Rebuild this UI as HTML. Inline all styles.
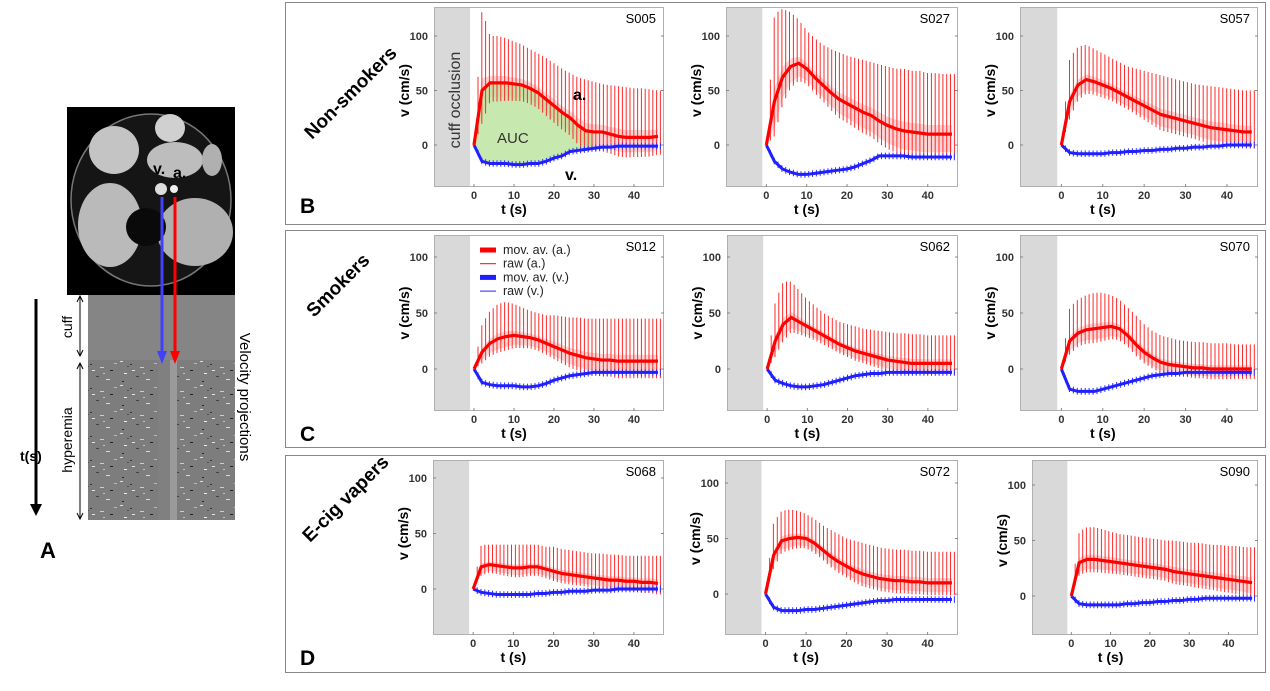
<!DOCTYPE html>
<html><head><meta charset="utf-8">
<style>
body{margin:0;background:#fff;width:1270px;height:686px;overflow:hidden;font-family:"Liberation Sans",Arial,sans-serif}
svg text{font-family:"Liberation Sans",Arial,sans-serif}
</style></head>
<body>
<svg id="fig" width="1270" height="686" viewBox="0 0 1270 686" xmlns="http://www.w3.org/2000/svg">
<defs>
<pattern id="noise" width="40" height="24" patternUnits="userSpaceOnUse">
<rect width="40" height="24" fill="#7d7d7d"/>
<rect x="0" y="1" width="3" height="1" fill="#ddd"/><rect x="10" y="4" width="2" height="1" fill="#333"/>
<rect x="20" y="7" width="4" height="1" fill="#ccc"/><rect x="30" y="10" width="3" height="1" fill="#222"/>
<rect x="4" y="13" width="3" height="1" fill="#eee"/><rect x="16" y="16" width="3" height="1" fill="#444"/>
<rect x="26" y="19" width="4" height="1" fill="#d8d8d8"/><rect x="2" y="21" width="2" height="1" fill="#2a2a2a"/>
<rect x="34" y="3" width="3" height="1" fill="#bbb"/><rect x="12" y="10" width="3" height="1" fill="#e4e4e4"/>
<rect x="7" y="6" width="2" height="1" fill="#505050"/><rect x="23" y="13" width="2" height="1" fill="#c4c4c4"/>
</pattern>
</defs>

<!-- Panel A -->
<g>
<rect x="67" y="107" width="168" height="188" fill="#000"/>
<ellipse cx="151" cy="200" rx="80" ry="86" fill="#151515" stroke="#777" stroke-width="1.5"/>
<ellipse cx="114" cy="150" rx="25" ry="24" fill="#c4c4c4"/>
<ellipse cx="170" cy="128" rx="15" ry="14" fill="#d0d0d0"/>
<ellipse cx="175" cy="160" rx="28" ry="18" fill="#bdbdbd"/>
<ellipse cx="212" cy="160" rx="10" ry="16" fill="#b0b0b0"/>
<ellipse cx="110" cy="225" rx="32" ry="42" fill="#bababa"/>
<ellipse cx="195" cy="232" rx="38" ry="34" fill="#b0b0b0"/>
<ellipse cx="146" cy="227" rx="20" ry="19" fill="#0a0a0a"/>
<circle cx="161" cy="189" r="6" fill="#ddd"/><circle cx="174" cy="189" r="4" fill="#eee"/>
<text x="153" y="174" font-size="16" font-weight="bold" fill="#000">v.</text>
<text x="173" y="178" font-size="16" font-weight="bold" fill="#000">a.</text>
<rect x="88" y="295" width="147" height="65" fill="#858585"/>
<rect x="88" y="360" width="147" height="160" fill="url(#noise)"/>
<rect x="158" y="360" width="12" height="160" fill="#808080"/>
<rect x="170" y="360" width="7" height="160" fill="#9a9a9a"/>
<line x1="162" y1="197" x2="162" y2="352" stroke="#4040ff" stroke-width="3"/>
<path d="M157,351 L167,351 L162,364z" fill="#4040ff"/>
<line x1="175" y1="197" x2="175" y2="352" stroke="#ff0000" stroke-width="3"/>
<path d="M170,351 L180,351 L175,364z" fill="#f00"/>
<line x1="36" y1="299" x2="36" y2="505" stroke="#000" stroke-width="3"/>
<path d="M30,504 L42,504 L36,516z" fill="#000"/>
<text x="20" y="461" font-size="14" font-weight="bold">t(s)</text>
<line x1="80" y1="297" x2="80" y2="355" stroke="#000"/><path d="M77,302 L80,296 L83,302 M77,350 L80,356 L83,350" stroke="#000" fill="none"/>
<line x1="80" y1="364" x2="80" y2="518" stroke="#000"/><path d="M77,369 L80,363 L83,369 M77,513 L80,519 L83,513" stroke="#000" fill="none"/>
<text transform="translate(72,327) rotate(-90)" font-size="14" text-anchor="middle">cuff</text>
<text transform="translate(72,440) rotate(-90)" font-size="14" text-anchor="middle">hyperemia</text>
<text transform="translate(240,397) rotate(90)" font-size="15" text-anchor="middle">Velocity projections</text>
<text x="40" y="558" font-size="22" font-weight="bold">A</text>
</g>

<g>
<rect x="285.5" y="2.5" width="980" height="222" fill="none" stroke="#888"/>
<rect x="285.5" y="230.5" width="980" height="217" fill="none" stroke="#888"/>
<rect x="285.5" y="455.5" width="980" height="217" fill="none" stroke="#888"/>
<text transform="translate(312,140) rotate(-45)" font-size="19" font-weight="bold">Non-smokers</text>
<text transform="translate(314,318) rotate(-45)" font-size="19" font-weight="bold">Smokers</text>
<text transform="translate(310,543) rotate(-45)" font-size="19" font-weight="bold">E-cig vapers</text>
<text x="300" y="213" font-size="21" font-weight="bold">B</text>
<text x="300" y="441" font-size="21" font-weight="bold">C</text>
<text x="300" y="665" font-size="21" font-weight="bold">D</text>
</g>
<g id="plots"></g>
</svg>
<script>
// time grid (s) for all series
const times=[0,2,4,6,8,10,12,14,16,18,20,22,24,26,28,30,32,34,36,38,40,42,44,46];
const subjects=["S005","S027","S057","S012","S062","S070","S068","S072","S090"];
const art_S005=[0,50,57,57,57,56,55,52,48,42,36,30,25,18,13,12,12,10,8,7,7,7,7,8];
const ven_S005=[0,-15,-17,-17,-17,-18,-18,-17,-17,-15,-12,-10,-6,-5,-4,-3,-2,-2,-1,-1,-1,-1,-1,-1];
const peak_S005=[0,125,100,100,98,95,92,88,84,80,75,70,66,62,60,58,56,55,54,53,52,52,51,50];
const art_S027=[0,40,62,72,75,70,62,55,48,42,38,34,30,27,22,18,15,13,12,11,10,10,10,10];
const ven_S027=[0,-15,-22,-25,-27,-27,-26,-25,-24,-23,-22,-20,-17,-14,-10,-10,-10,-10,-11,-11,-11,-11,-11,-11];
const peak_S027=[0,120,125,122,115,105,98,92,88,85,82,80,78,76,74,72,70,70,68,68,66,66,65,65];
const art_S057=[0,40,55,60,58,55,52,48,44,40,36,32,28,26,24,22,20,18,16,15,14,13,12,12];
const ven_S057=[0,-7,-8,-8,-8,-8,-7,-7,-6,-6,-5,-5,-4,-4,-3,-3,-2,-2,-1,-1,0,0,0,0];
const peak_S057=[0,80,90,92,88,84,80,76,72,70,68,66,64,62,60,58,56,55,54,53,52,51,50,50];
const art_S012=[0,15,23,27,29,30,29,28,26,23,20,17,14,12,10,9,8,8,7,7,7,7,7,7];
const ven_S012=[0,-12,-14,-15,-15,-15,-16,-16,-15,-13,-10,-8,-6,-5,-4,-3,-3,-3,-3,-3,-3,-3,-3,-3];
const peak_S012=[0,40,52,58,60,58,55,52,50,48,48,47,46,46,45,45,45,45,45,45,45,45,45,45];
const art_S062=[0,25,40,46,42,38,34,30,26,22,19,16,14,12,10,8,7,6,5,5,5,5,5,5];
const ven_S062=[0,-10,-13,-15,-16,-16,-15,-14,-12,-10,-8,-6,-5,-4,-4,-3,-3,-3,-3,-3,-3,-3,-3,-3];
const peak_S062=[0,60,78,78,70,62,56,50,46,42,40,38,36,35,34,33,32,32,31,31,30,30,30,30];
const art_S070=[0,25,32,35,36,37,38,36,30,22,15,10,6,4,3,2,1,1,0,0,0,0,0,0];
const ven_S070=[0,-18,-20,-20,-20,-18,-16,-14,-12,-10,-8,-6,-5,-4,-4,-3,-3,-3,-3,-3,-3,-3,-3,-3];
const peak_S070=[0,55,62,66,68,68,66,62,55,48,40,34,30,28,26,25,24,24,23,23,23,22,22,22];
const art_S068=[0,20,22,21,20,19,19,20,20,18,16,14,13,12,11,10,9,8,8,7,7,6,6,5];
const ven_S068=[0,-3,-4,-5,-5,-5,-5,-5,-4,-4,-3,-3,-2,-2,-2,-1,-1,-1,0,0,0,0,0,0];
const peak_S068=[0,40,40,40,40,40,40,40,40,38,38,36,35,34,33,32,32,31,31,30,30,30,30,30];
const art_S072=[0,35,48,50,51,50,46,40,34,29,25,21,18,16,14,13,12,12,11,11,10,10,10,10];
const ven_S072=[0,-12,-15,-15,-15,-14,-14,-13,-12,-11,-10,-9,-8,-7,-6,-6,-5,-5,-5,-5,-5,-5,-5,-5];
const peak_S072=[0,65,75,76,75,72,68,62,58,54,50,48,46,44,42,41,40,40,39,39,38,38,38,38];
const art_S090=[0,30,33,33,32,31,30,29,28,27,26,25,24,22,21,20,19,18,17,16,15,14,13,12];
const ven_S090=[0,-7,-8,-8,-8,-8,-8,-7,-7,-6,-6,-5,-5,-4,-4,-3,-3,-2,-2,-2,-2,-2,-2,-2];
const peak_S090=[0,58,62,62,60,58,56,55,54,53,52,51,50,50,49,48,48,47,46,46,45,45,44,44];
const xTicks=[0,10,20,30,40];
const yTicks=[0,50,100];

const series={S005:[art_S005,ven_S005,peak_S005],S027:[art_S027,ven_S027,peak_S027],S057:[art_S057,ven_S057,peak_S057],
S012:[art_S012,ven_S012,peak_S012],S062:[art_S062,ven_S062,peak_S062],S070:[art_S070,ven_S070,peak_S070],
S068:[art_S068,ven_S068,peak_S068],S072:[art_S072,ven_S072,peak_S072],S090:[art_S090,ven_S090,peak_S090]};
// layout (pixels)
const layout={S005:[434,664,7,187,145,1.09],S027:[726,958,7,187,145,1.09],S057:[1020,1258,7,187,145,1.09],
S012:[434,664,235,411,369,1.12],S062:[727,958,235,411,369,1.12],S070:[1020,1258,235,411,369,1.12],
S068:[433,664,460,635,589,1.11],S072:[725,958,460,635,594,1.11],S090:[1032,1258,460,635,596,1.11]};
const NS="http://www.w3.org/2000/svg";
function mk(tag,attrs,parent){const e=document.createElementNS(NS,tag);for(const k in attrs)e.setAttribute(k,attrs[k]);parent.appendChild(e);return e;}
function interp(arr,t){if(t<=times[0])return arr[0];for(let i=1;i<times.length;i++){if(t<=times[i]){const f=(t-times[i-1])/(times[i]-times[i-1]);return arr[i-1]+f*(arr[i]-arr[i-1]);}}return arr[arr.length-1];}
const root=document.getElementById('plots');
subjects.forEach(s=>{
  const [L,R,T,B,Y0,K]=layout[s];
  const [art,ven,peak]=series[s];
  const xs=t=>L+(t+10)*(R-L)/57.5;
  const ys=v=>Y0-v*K;
  const g=mk('g',{},root);
  
  
  const clipId='c'+s;
  const cp=mk('clipPath',{id:clipId},g);mk('rect',{x:L,y:T,width:R-L,height:B-T},cp);
  const gray=mk('rect',{x:L,y:T,width:xs(-1)-L,height:B-T,fill:'#d9d9d9'},g);
  
  
  const inner=mk('g',{'clip-path':'url(#'+clipId+')'},g);
  const avPts=times.map((t,i)=>xs(t)+','+ys(art[i]));
  const vePts=times.map((t,i)=>xs(t)+','+ys(ven[i]));
  // pale band of raw signal below mov av
  const band=times.map((t,i)=>xs(t)+','+ys(art[i]+0.15*(peak[i]-art[i])));
  const bandLo=times.map((t,i)=>xs(t)+','+ys(art[i]-0.3*(peak[i]-art[i]))).reverse();
  mk('polygon',{points:band.concat(bandLo).join(' '),fill:'#ffb0b0',opacity:0.55},inner);
  if(s==='S005'){
    const n=times.filter(t=>t<=30).length;
    const poly=avPts.slice(0,n).concat(vePts.slice(0,n).reverse()).join(' ');
    const auc=mk('polygon',{points:poly,fill:'#b9e29a',opacity:0.8},inner);
    
    
  }
  // raw arterial spikes
  let d='';
  for(let t=1.0;t<47.5;t+=0.95){
    const a=interp(art,t),p=interp(peak,t),lo=a-0.4*(p-a);
    d+='M'+xs(t).toFixed(1)+','+ys(lo).toFixed(1)+'V'+ys(p).toFixed(1);
  }
  const rawL=mk('path',{d:d,fill:'none',stroke:'#ff2a2a','stroke-width':1},inner);
  
  
  let dv='';
  for(let t=1.0;t<47.5;t+=0.95){
    const v=interp(ven,t);
    dv+='M'+xs(t).toFixed(1)+','+ys(v-3).toFixed(1)+'V'+ys(v+3).toFixed(1);
  }
  const rawV=mk('path',{d:dv,fill:'none',stroke:'#3030ff','stroke-width':1},inner);
  
  
  const vl=mk('polyline',{points:vePts.join(' '),fill:'none',stroke:'#1f1fff','stroke-width':3},inner);
  
  
  const al=mk('polyline',{points:avPts.join(' '),fill:'none',stroke:'#ff0000','stroke-width':3.2},inner);
  
  
  mk('rect',{x:L+0.5,y:T+0.5,width:R-L-1,height:B-T-1,fill:'none',stroke:'#b0b0b0'},g);
  xTicks.forEach(t=>{
    mk('line',{x1:xs(t),x2:xs(t),y1:B,y2:B-3,stroke:'#888'},g);
    const tx=mk('text',{x:xs(t),y:B+12,'font-size':11,'font-weight':'bold','text-anchor':'middle',fill:'#333'},g);
    tx.textContent=t;
    
    
  });
  yTicks.forEach(v=>{
    mk('line',{x1:L,x2:L+3,y1:ys(v),y2:ys(v),stroke:'#888'},g);
    mk('line',{x1:R,x2:R-3,y1:ys(v),y2:ys(v),stroke:'#888'},g);
    const tx=mk('text',{x:L-6,y:ys(v)+4,'font-size':11,'font-weight':'bold','text-anchor':'end',fill:'#333'},g);
    tx.textContent=v;
    
    
  });
  const xt=mk('text',{x:xs(10),y:B+27,'font-size':14,'font-weight':'bold','text-anchor':'middle'},g);
  xt.textContent='t (s)';
  
  
  const yt=mk('text',{transform:'translate('+(L-25)+','+(Y0-50*K)+') rotate(-90)','font-size':14,'font-weight':'bold','text-anchor':'middle'},g);
  yt.textContent='v (cm/s)';
  
  
  const st=mk('text',{x:R-8,y:T+16,'font-size':13,'text-anchor':'end'},g);
  st.textContent=s;
  
  
  if(s==='S005'){
    const c=mk('text',{transform:'translate('+(L+26)+',100) rotate(-90)','font-size':16,'text-anchor':'middle',fill:'#333'},g);c.textContent='cuff occlusion';
    const a=mk('text',{x:497,y:143,'font-size':15,fill:'#333'},g);a.textContent='AUC';
    const aa=mk('text',{x:573,y:100,'font-size':16,'font-weight':'bold'},g);aa.textContent='a.';
    const vv=mk('text',{x:565,y:180,'font-size':16,'font-weight':'bold'},g);vv.textContent='v.';
  }
  if(s==='S012'){
    const lg=mk('g',{},g);
    
    
    const items=[['mov. av. (a.)','#ff0000',5],['raw (a.)','#ff0000',1],['mov. av. (v.)','#2020ff',5],['raw (v.)','#2020ff',1]];
    items.forEach((it,i)=>{
      const y=250+i*13.7;
      mk('line',{x1:480,x2:496,y1:y,y2:y,stroke:it[1],'stroke-width':it[2]},lg);
      const t=mk('text',{x:503,y:y+4,'font-size':12.5,fill:'#222'},lg);t.textContent=it[0];
      
      
    });
  }
});
</script>
</body></html>
